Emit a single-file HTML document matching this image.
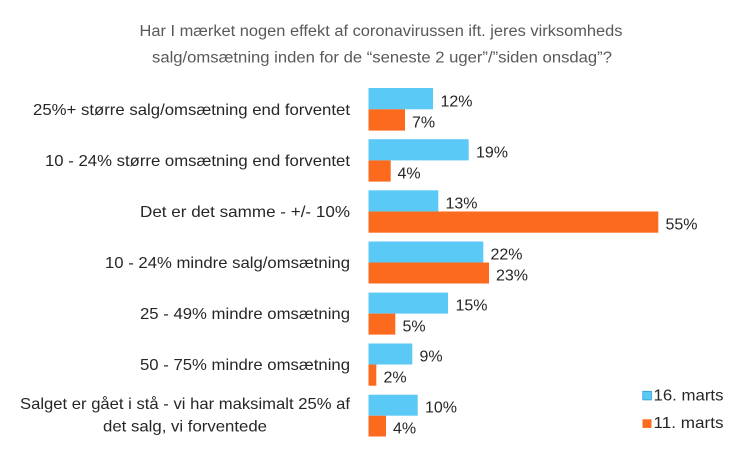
<!DOCTYPE html>
<html>
<head>
<meta charset="utf-8">
<style>
html,body{margin:0;padding:0;background:#fff;}
svg{display:block;}
text{font-family:"Liberation Sans","DejaVu Sans",sans-serif;}
</style>
</head>
<body>
<svg width="748" height="451" viewBox="0 0 748 451" xmlns="http://www.w3.org/2000/svg">
<rect width="748" height="451" fill="#fff"/>
<!-- Title -->
<text x="139.5" y="36" font-size="15.5" fill="#595959" textLength="483" lengthAdjust="spacingAndGlyphs">Har I mærket nogen effekt af coronavirussen ift. jeres virksomheds</text>
<text x="152" y="62.5" font-size="15.5" fill="#595959" textLength="460" lengthAdjust="spacingAndGlyphs">salg/omsætning inden for de “seneste 2 uger”/”siden onsdag”?</text>

<!-- Category labels -->
<g font-size="16" fill="#262626">
<text x="33" y="115" textLength="317" lengthAdjust="spacingAndGlyphs">25%+ større salg/omsætning end forventet</text>
<text x="45" y="166" textLength="305" lengthAdjust="spacingAndGlyphs">10 - 24% større omsætning end forventet</text>
<text x="140" y="217" textLength="210" lengthAdjust="spacingAndGlyphs">Det er det samme - +/- 10%</text>
<text x="105" y="268" textLength="245" lengthAdjust="spacingAndGlyphs">10 - 24% mindre salg/omsætning</text>
<text x="140" y="319" textLength="210" lengthAdjust="spacingAndGlyphs">25 - 49% mindre omsætning</text>
<text x="140" y="370" textLength="210" lengthAdjust="spacingAndGlyphs">50 - 75% mindre omsætning</text>
<text x="20" y="409" textLength="330" lengthAdjust="spacingAndGlyphs">Salget er gået i stå - vi har maksimalt 25% af</text>
<text x="103" y="431.5" textLength="164" lengthAdjust="spacingAndGlyphs">det salg, vi forventede</text>
</g>

<!-- Bars -->
<g>
<rect x="368.5" y="88" width="64.5" height="21.3" fill="#5BC9F6"/>
<rect x="368.5" y="109.3" width="36.5" height="21.3" fill="#FC6A1E"/>

<rect x="368.5" y="139.2" width="100.2" height="21.2" fill="#5BC9F6"/>
<rect x="368.5" y="160.4" width="22.2" height="21.2" fill="#FC6A1E"/>

<rect x="368.5" y="190.3" width="69.8" height="21.2" fill="#5BC9F6"/>
<rect x="368.5" y="211.5" width="289.8" height="21.2" fill="#FC6A1E"/>

<rect x="368.5" y="241.5" width="114.8" height="21" fill="#5BC9F6"/>
<rect x="368.5" y="262.5" width="120.5" height="21" fill="#FC6A1E"/>

<rect x="368.5" y="292.6" width="79.5" height="21" fill="#5BC9F6"/>
<rect x="368.5" y="313.6" width="26.8" height="21" fill="#FC6A1E"/>

<rect x="368.5" y="343.5" width="43.8" height="21" fill="#5BC9F6"/>
<rect x="368.5" y="364.5" width="7.8" height="21.2" fill="#FC6A1E"/>

<rect x="368.5" y="394.7" width="49.2" height="21" fill="#5BC9F6"/>
<rect x="368.5" y="415.7" width="17.5" height="20.8" fill="#FC6A1E"/>
</g>

<!-- Value labels -->
<g font-size="16" fill="#262626">
<text x="440.5" y="106.3">12%</text>
<text x="412" y="127.3">7%</text>
<text x="476" y="157.3">19%</text>
<text x="397.5" y="178.5">4%</text>
<text x="445.5" y="208.5">13%</text>
<text x="665.5" y="229.5">55%</text>
<text x="490.5" y="259.5">22%</text>
<text x="496" y="280.3">23%</text>
<text x="455.5" y="310.5">15%</text>
<text x="402.5" y="331.5">5%</text>
<text x="419.5" y="361.5">9%</text>
<text x="383.5" y="382.5">2%</text>
<text x="425" y="412.5">10%</text>
<text x="393" y="433.5">4%</text>
</g>

<!-- Legend -->
<rect x="642.8" y="391.3" width="8.6" height="8.6" fill="#5BC9F6" stroke="#2E9AD0" stroke-width="0.8"/>
<rect x="642.5" y="419.3" width="9" height="8.6" fill="#FC6A1E"/>
<text x="653.5" y="400.3" font-size="16" fill="#262626" textLength="70" lengthAdjust="spacingAndGlyphs">16. marts</text>
<text x="653.5" y="427.8" font-size="16" fill="#262626" textLength="70" lengthAdjust="spacingAndGlyphs">11. marts</text>
</svg>
</body>
</html>
